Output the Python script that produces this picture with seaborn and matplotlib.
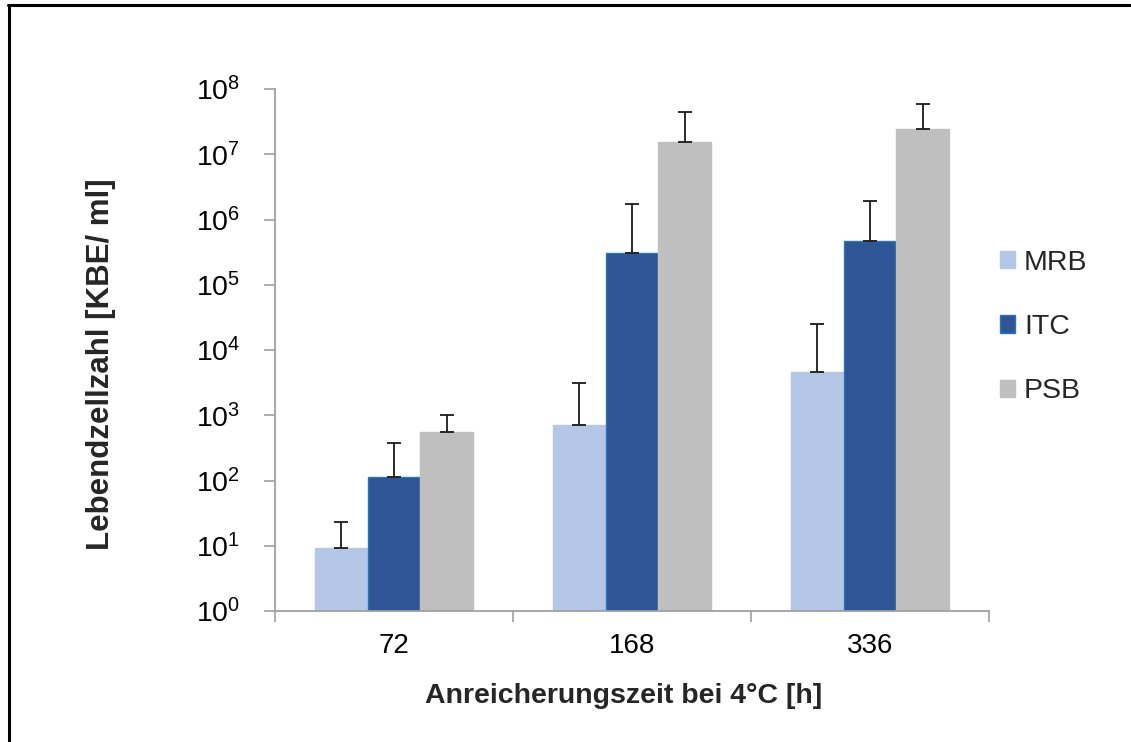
import numpy as np
import pandas as pd
import matplotlib
matplotlib.use("Agg")
import matplotlib.pyplot as plt
from matplotlib.lines import Line2D
from matplotlib.patches import Patch
from matplotlib.ticker import NullLocator
import seaborn as sns

# values (KBE/ml)
times = ["72", "168", "336"]
media = ["MRB", "ITC", "PSB"]
mrb_mean = [9.1, 710, 4550]
mrb_upper = [23, 3100, 25000]
itc_mean = [112, 310000, 470000]
itc_upper = [380, 1750000, 1920000]
psb_mean = [550, 15400000, 24000000]
psb_upper = [1000, 44000000, 60000000]
colors = ["#B4C7E7", "#2F5597", "#BFBFBF"]
edge_colors = ["#B4C7E7", "#2E75B6", "#BFBFBF"]

df = pd.DataFrame({
    "zeit": times * 3,
    "medium": np.repeat(media, 3),
    "kbe": mrb_mean + itc_mean + psb_mean,
    "oben": mrb_upper + itc_upper + psb_upper,
})

sns.set_style("white")
plt.rcParams["font.family"] = ["Liberation Sans", "DejaVu Sans"]
plt.rcParams["mathtext.default"] = "regular"

fig = plt.figure(figsize=(11.31, 7.42), dpi=100)
ax = fig.add_axes([0.2431, 0.1765, 0.6313, 0.7035])
ax.set_yscale("log")
sns.barplot(
    data=df, x="zeit", y="kbe", hue="medium",
    order=times, hue_order=media, palette=colors,
    width=0.665, gap=0, errorbar=None, saturation=1,
    ax=ax, legend=False,
)

# upper error bars only, placed on the bars seaborn drew
for cont, med, ec in zip(ax.containers, media, edge_colors):
    sub = df[df["medium"] == med].set_index("zeit").loc[times]
    xs = [b.get_x() + b.get_width() / 2 for b in cont.patches]
    for b in cont.patches:
        b.set_edgecolor(ec)
        b.set_linewidth(1.0)
    ax.errorbar(
        xs, sub["kbe"].values,
        yerr=[np.zeros(len(xs)), sub["oben"].values - sub["kbe"].values],
        fmt="none", ecolor="#1a1a1a", elinewidth=1.3, capsize=5, capthick=1.3,
    )

ax.set_ylim(1, 1e8)
ax.set_xlim(-0.5, 2.5)
ax.set_yticks([10.0 ** i for i in range(9)])
ax.yaxis.set_minor_locator(NullLocator())
ax.tick_params(axis="y", which="major", left=True, direction="out", length=8,
               width=1.2, color="#A0A0A0", labelsize=20.5, pad=17, labelcolor="black")
ax.set_xticks([0, 1, 2])
ax.set_xticklabels(times)
ax.tick_params(axis="x", which="major", length=0, pad=16, labelsize=20, labelcolor="black")
ax.set_xticks([-0.5, 0.5, 1.5, 2.5], minor=True)
ax.tick_params(axis="x", which="minor", bottom=True, direction="out", length=8,
               width=1.2, color="#A0A0A0")

for side in ["top", "right"]:
    ax.spines[side].set_visible(False)
for side in ["left", "bottom"]:
    ax.spines[side].set_color("#A0A0A0")
    ax.spines[side].set_linewidth(1.3)

ax.set_xlabel("Anreicherungszeit bei 4°C [h]", fontsize=20.5, fontweight="bold")
ax.xaxis.set_label_coords(0.489, -0.138)
ax.set_ylabel("Lebendzellzahl [KBE/ ml]", fontsize=22.5, fontweight="bold")
ax.yaxis.set_label_coords(-0.223, 0.472)

handles = [Patch(facecolor=c, edgecolor=e, linewidth=1.0) for c, e in zip(colors, edge_colors)]
ax.legend(
    handles, media, loc="center left", bbox_to_anchor=(0.884, 0.5593),
    bbox_transform=fig.transFigure, frameon=False, fontsize=20.5,
    handlelength=0.55, handleheight=0.55, handletextpad=0.3,
    labelspacing=1.34, borderpad=0, borderaxespad=0,
)

# outer frame lines of the original picture
fig.add_artist(Line2D([8.5 / 1131, 8.5 / 1131], [0, 1 - 5 / 742], transform=fig.transFigure,
                      color="black", lw=2.2))
fig.add_artist(Line2D([8 / 1131, 1130 / 1131], [1 - 5 / 742, 1 - 5 / 742], transform=fig.transFigure,
                      color="black", lw=2.2))

fig.savefig("out.png", dpi=100)
